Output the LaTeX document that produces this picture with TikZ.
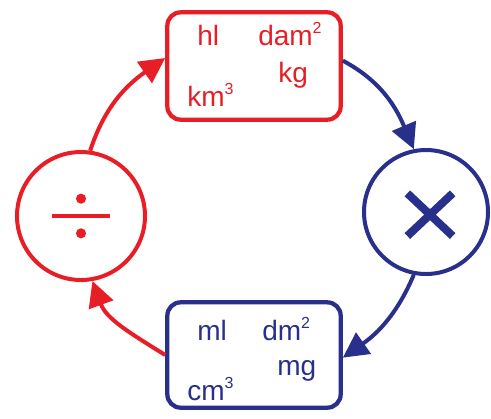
\documentclass[tikz,border=0pt]{standalone}
\usepackage{fontspec}
\setmainfont{Liberation Sans}
\usetikzlibrary{arrows.meta, positioning}
\definecolor{unitred}{RGB}{232,30,38}
\definecolor{unitblue}{RGB}{40,48,140}
\tikzset{
  unitbox/.style={draw, rounded corners=10pt, line width=3.2pt, minimum width=130pt, minimum height=80.5pt, inner sep=0pt},
  opcircle/.style={draw, circle, line width=3pt, inner sep=0pt},
  unit/.style={anchor=base west, inner sep=0pt, font=\fontsize{21}{25}\selectfont},
  cyc/.style={-{Triangle[length=19pt,width=19pt]}, line width=3pt},
  sign/.style={line width=3pt}
}
\newcommand{\upidx}[1]{\raisebox{0.42em}{\fontsize{12}{12}\selectfont #1}}

\begin{document}
\begin{tikzpicture}[x=0.75pt,y=-0.75pt]
  \useasboundingbox (0,0) rectangle (491,418);

  % boxes and circles
  \node[unitbox, unitred] (big) at (254,66) {};
  \node[unitbox, unitblue, minimum height=79pt] (small) at (254,355) {};
  \node[opcircle, unitred, minimum size=96pt] (divide) at (81,216) {};
  \node[opcircle, unitblue, minimum size=93pt] (times) at (426,212) {};

  % units
  \node[unit, unitred] (hl) at (197,45) {hl};
  \node[unit, unitred] (dam) at (258,45) {dam\upidx{2}};
  \node[unit, unitred] (kg) at (278,82) {kg};
  \node[unit, unitred] (km) at (187,106) {km\upidx{3}};
  \node[unit, unitblue] (ml) at (197,340) {ml};
  \node[unit, unitblue] (dm) at (262,340) {dm\upidx{2}};
  \node[unit, unitblue] (mg) at (277,375) {mg};
  \node[unit, unitblue] (cm) at (187,400) {cm\upidx{3}};

  % signs
  \draw[sign, unitred] ([xshift=-22pt]divide.center) -- ([xshift=22pt]divide.center);
  \fill[unitred] ([yshift=13pt]divide.center) circle (3.8pt);
  \fill[unitred] ([yshift=-13pt]divide.center) circle (3.8pt);
  \draw[sign, unitblue, line width=6pt] ([shift={(-14pt,14pt)}]times.center) -- ([shift={(20pt,-18pt)}]times.center);
  \draw[sign, unitblue, line width=6pt] ([shift={(-14pt,-18pt)}]times.center) -- ([shift={(20pt,14pt)}]times.center);

  % cycle
  \draw[cyc, unitred] (divide.82) to[out=72, in=215] ([yshift=6pt]big.west);
  \draw[cyc, unitblue] ([yshift=4pt]big.east) to[out=-28, in=113] (times.101);
  \draw[cyc, unitblue] (times.259) to[out=247, in=35] ([yshift=-2pt]small.east);
  \draw[cyc, unitred] (small.west) to[out=148, in=290] (divide.280);
\end{tikzpicture}
\end{document}
